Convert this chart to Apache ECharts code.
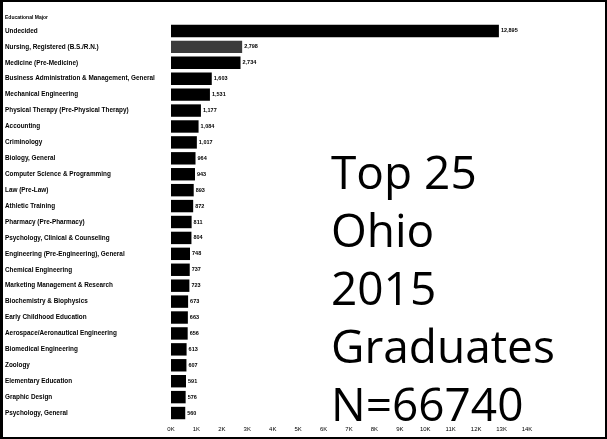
<!DOCTYPE html>
<html>
<head>
<meta charset="utf-8">
<title>Top 25 Ohio 2015 Graduates</title>
<script src="https://cdn.jsdelivr.net/npm/echarts@6/dist/echarts.min.js"></script>
<style>
  html, body { margin: 0; padding: 0; background: #fff; }
  #chart { width: 607px; height: 439px; }
</style>
</head>
<body>
<div id="chart"></div>
<script>
// majors, top to bottom
var majors = [
  'Undecided',
  'Nursing, Registered (B.S./R.N.)',
  'Medicine (Pre-Medicine)',
  'Business Administration & Management, General',
  'Mechanical Engineering',
  'Physical Therapy (Pre-Physical Therapy)',
  'Accounting',
  'Criminology',
  'Biology, General',
  'Computer Science & Programming',
  'Law (Pre-Law)',
  'Athletic Training',
  'Pharmacy (Pre-Pharmacy)',
  'Psychology, Clinical & Counseling',
  'Engineering (Pre-Engineering), General',
  'Chemical Engineering',
  'Marketing Management & Research',
  'Biochemistry & Biophysics',
  'Early Childhood Education',
  'Aerospace/Aeronautical Engineering',
  'Biomedical Engineering',
  'Zoology',
  'Elementary Education',
  'Graphic Design',
  'Psychology, General'
];
var counts = [12895, 2798, 2734, 1603, 1531, 1177, 1084, 1017, 964, 943, 893, 872,
              811, 804, 748, 737, 723, 673, 663, 656, 613, 607, 591, 576, 560];
var titleLines = ['Top 25', 'Ohio', '2015', 'Graduates', 'N=66740'];

var chart = echarts.init(document.getElementById('chart'));

var barData = counts.map(function (v, i) {
  if (i == 1) {
    return { value: v, itemStyle: { color: '#3c3c3c' } };
  }
  return v;
});

var titleText = titleLines.map(function (t, i) {
  return {
    type: 'text',
    left: 331,
    top: 153 + i * 58,
    style: { text: t, font: '46px "Open Sans", sans-serif', fill: '#000' }
  };
});

var option = {
  animation: false,
  grid: { left: 171, right: 80, top: 23, bottom: 18, outerBoundsMode: 'none' },
  xAxis: {
    type: 'value',
    min: 0,
    max: 14000,
    interval: 1000,
    name: 'Overall',
    nameLocation: 'middle',
    nameGap: 13,
    nameTextStyle: { fontSize: 5, color: '#000', fontFamily: 'Liberation Sans' },
    axisLine: { show: false },
    axisTick: { show: false },
    splitLine: { show: false },
    axisLabel: {
      fontSize: 6, color: '#000', margin: 5, fontFamily: 'Liberation Sans',
      formatter: function (v) { return (v / 1000) + 'K'; }
    }
  },
  yAxis: {
    type: 'category',
    inverse: true,
    data: majors,
    axisLine: { show: false },
    axisTick: { show: false },
    axisLabel: {
      align: 'left',
      margin: 166,
      fontSize: 6.4,
      fontWeight: 'bold',
      color: '#000',
      fontFamily: 'Liberation Sans'
    }
  },
  series: [{
    type: 'bar',
    data: barData,
    barCategoryGap: '22%',
    itemStyle: { color: '#000' },
    label: {
      show: true,
      position: 'right',
      distance: 2,
      fontSize: 5.5,
      fontWeight: 'bold',
      color: '#000',
      fontFamily: 'Liberation Sans',
      formatter: function (p) { return p.value.toLocaleString('en-US'); }
    }
  }],
  graphic: [
    {
      type: 'rect',
      shape: { x: 1, y: 1, width: 605, height: 437 },
      style: { fill: 'none', stroke: '#000', lineWidth: 2 }
    },
    {
      type: 'rect',
      shape: { x: 1, y: 1, width: 2, height: 437 },
      style: { fill: '#000' }
    },
    {
      type: 'text',
      left: 5,
      top: 15,
      style: { text: 'Educational Major', font: 'bold 5px "Liberation Sans"', fill: '#000' }
    }
  ].concat(titleText)
};

chart.setOption(option);
</script>
</body>
</html>
